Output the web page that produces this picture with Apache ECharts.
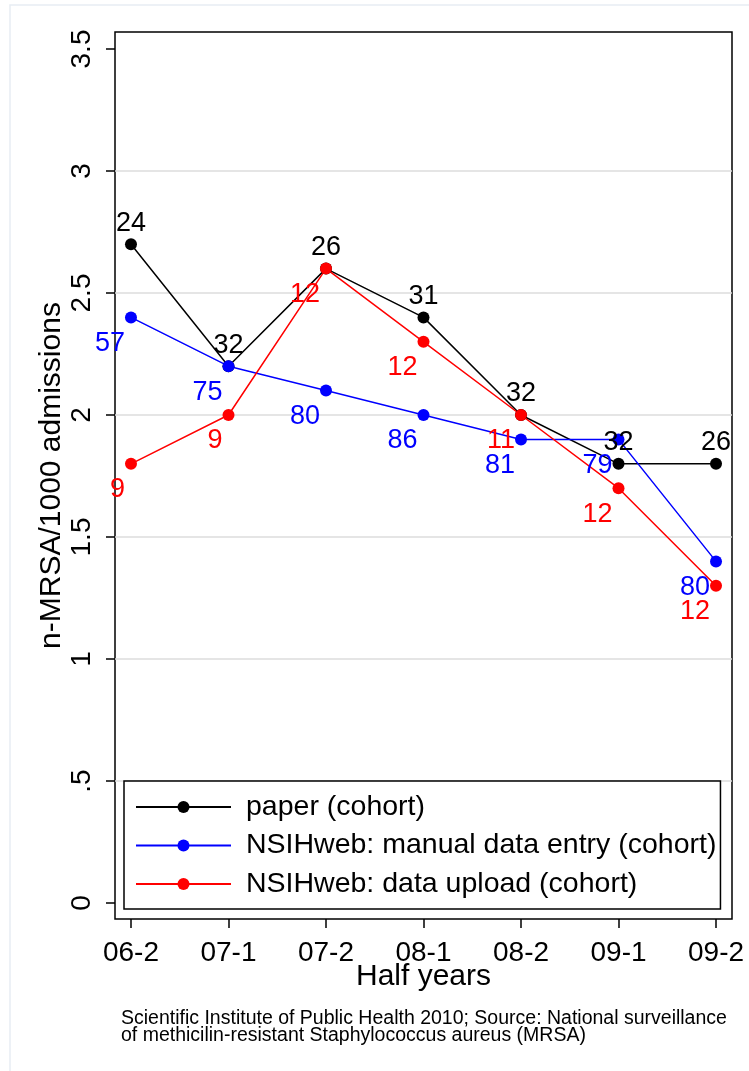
<!DOCTYPE html>
<html>
<head>
<meta charset="utf-8">
<script src="https://cdn.jsdelivr.net/npm/echarts@6/dist/echarts.min.js"></script>
<style>
  html, body { margin: 0; padding: 0; background: #fff; }
  #chart { width: 749px; height: 1071px; }
</style>
</head>
<body>
<div id="chart"></div>
<script>
// Half-year periods on the x axis
const periods = ['06-2', '07-1', '07-2', '08-1', '08-2', '09-1', '09-2'];

// n-MRSA per 1000 admissions, by registration method
const paperRate  = [2.7, 2.2, 2.6, 2.4, 2.0, 1.8, 1.8];
const manualRate = [2.4, 2.2, 2.1, 2.0, 1.9, 1.9, 1.4];
const uploadRate = [1.8, 2.0, 2.6, 2.3, 2.0, 1.7, 1.3];

// Number of participating hospitals (point labels)
const paperN  = [24, 32, 26, 31, 32, 32, 26];
const manualN = [57, 75, 80, 86, 81, 79, 80];
const uploadN = [9, 9, 12, 12, 11, 12, 12];

// Y axis tick values and their printed form
const yTicks = [0, 0.5, 1, 1.5, 2, 2.5, 3, 3.5];
const yTickLabels = ['0', '.5', '1', '1.5', '2', '2.5', '3', '3.5'];

const seriesNames = [
  'paper (cohort)',
  'NSIHweb: manual data entry (cohort)',
  'NSIHweb: data upload (cohort)'
];

const FONT = '"Liberation Sans", Arial, Helvetica, sans-serif';
const xIdx = periods.map((_, i) => i);

function toPoints(vals, counts) {
  return vals.map((v, i) => ({ value: [i, v], n: counts[i] }));
}

// labels: centred above the marker, or right-aligned below-left of it
function lineSeries(name, color, vals, counts, align, dx, dy) {
  return {
    name: name,
    type: 'line',
    data: toPoints(vals, counts),
    symbol: 'circle',
    symbolSize: 12,
    showAllSymbol: true,
    animation: false,
    lineStyle: { color: color, width: 1.5 },
    itemStyle: { color: color },
    label: {
      show: true,
      position: 'inside',
      align: align,
      verticalAlign: 'middle',
      color: color,
      fontFamily: FONT,
      fontSize: 27,
      formatter: p => String(p.data.n)
    },
    labelLayout: { dx: dx, dy: dy, hideOverlap: false },
    emphasis: { disabled: true }
  };
}

const chart = echarts.init(document.getElementById('chart'), null, { renderer: 'canvas' });

chart.setOption({
  backgroundColor: '#ffffff',
  animation: false,
  textStyle: { fontFamily: FONT },
  graphic: [{
    type: 'rect',
    shape: { x: 10, y: 5, width: 760, height: 1100 },
    style: { fill: 'none', stroke: '#e7edf3', lineWidth: 1.5 },
    silent: true,
    z: -10
  }],
  title: {
    text: 'Scientific Institute of Public Health 2010; Source: National surveillance\nof methicilin-resistant Staphylococcus aureus (MRSA)',
    left: 121,
    top: 1010,
    padding: 0,
    textStyle: {
      fontFamily: FONT,
      fontSize: 19.5,
      fontWeight: 'normal',
      lineHeight: 17,
      color: '#000'
    }
  },
  legend: {
    orient: 'vertical',
    left: 124,
    top: 781,
    padding: [11, 4, 10, 11],
    itemGap: 8.5,
    itemWidth: 95,
    itemHeight: 15,
    backgroundColor: '#ffffff',
    borderColor: '#000',
    borderWidth: 1.5,
    borderRadius: 0,
    selectedMode: false,
    data: seriesNames,
    textStyle: {
      fontFamily: FONT,
      fontSize: 28.5,
      lineHeight: 30,
      color: '#000',
      width: 470,
      padding: [0, 0, 0, 10]
    }
  },
  grid: {
    left: 115,
    top: 32,
    right: 17,
    bottom: 152,
    show: true,
    borderColor: '#000',
    borderWidth: 1.5,
    backgroundColor: '#fff',
    containLabel: false
  },
  xAxis: {
    type: 'value',
    min: -0.164,
    max: 6.164,
    name: 'Half years',
    nameLocation: 'middle',
    nameGap: 43,
    nameMoveOverlap: false,
    nameTextStyle: { fontFamily: FONT, fontSize: 30, color: '#000' },
    axisLine: { show: false, onZero: false },
    axisTick: {
      show: true,
      length: 9,
      customValues: xIdx,
      lineStyle: { color: '#000', width: 1.5 }
    },
    axisLabel: {
      customValues: xIdx,
      margin: 20,
      fontFamily: FONT,
      fontSize: 28,
      color: '#000',
      formatter: v => periods[Math.round(v)]
    },
    splitLine: { show: false }
  },
  yAxis: {
    type: 'value',
    min: -0.0656,
    max: 3.5697,
    name: 'n-MRSA/1000 admissions',
    nameLocation: 'middle',
    nameGap: 48,
    nameMoveOverlap: false,
    nameTextStyle: { fontFamily: FONT, fontSize: 30, color: '#000' },
    axisLine: { show: false, onZero: false },
    axisTick: {
      show: true,
      length: 9,
      customValues: yTicks,
      lineStyle: { color: '#000', width: 1.5 }
    },
    axisLabel: {
      customValues: yTicks,
      rotate: 90,
      margin: 19,
      fontFamily: FONT,
      fontSize: 28,
      color: '#000',
      formatter: v => yTickLabels[yTicks.indexOf(Math.round(v * 2) / 2)]
    },
    splitLine: {
      show: true,
      lineStyle: {
        color: ['rgba(0,0,0,0)', '#dcdcdc', '#dcdcdc', '#dcdcdc', '#dcdcdc', '#dcdcdc', '#dcdcdc', 'rgba(0,0,0,0)'],
        width: 1.5
      }
    }
  },
  series: [
    lineSeries(seriesNames[0], '#000000', paperRate, paperN, 'center', 0, -21),
    lineSeries(seriesNames[1], '#0000ff', manualRate, manualN, 'right', -6, 26),
    lineSeries(seriesNames[2], '#ff0000', uploadRate, uploadN, 'right', -6, 26)
  ]
});
</script>
</body>
</html>
